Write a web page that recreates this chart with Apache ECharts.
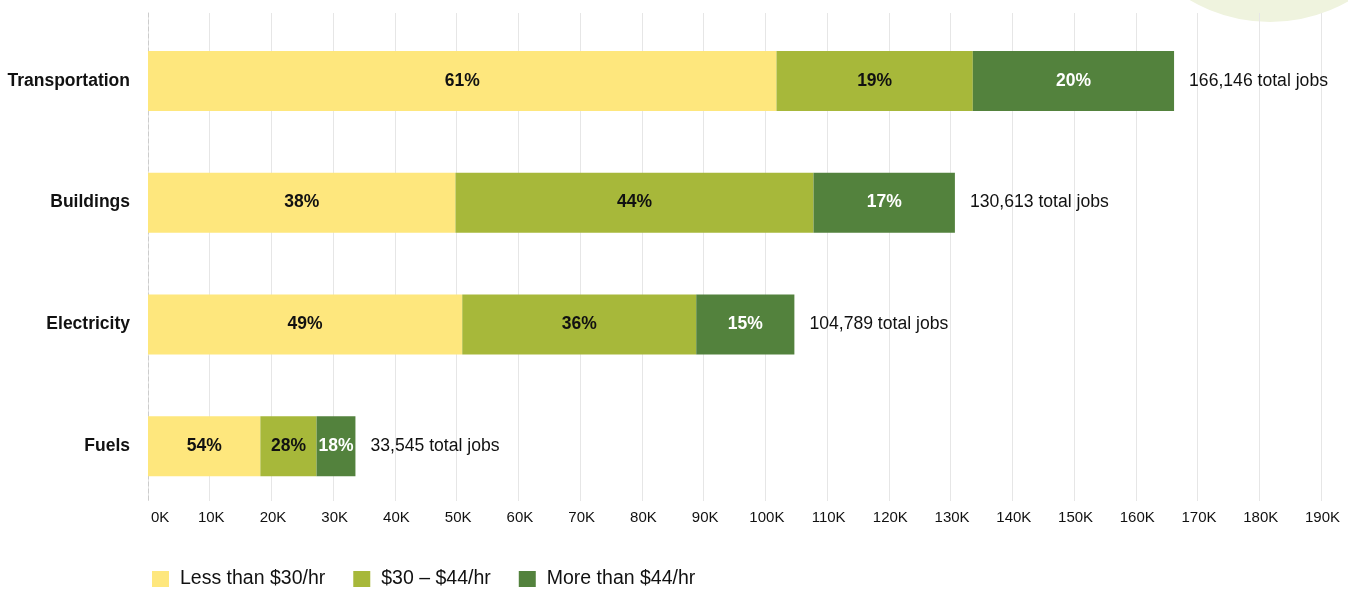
<!DOCTYPE html>
<html>
<head>
<meta charset="utf-8">
<script src="https://cdn.jsdelivr.net/npm/echarts@6/dist/echarts.min.js"></script>
<style>
html,body{margin:0;padding:0;background:#fff;}
#chart{width:1348px;height:591px;}
</style>
</head>
<body>
<div id="chart"></div>
<script>
const categories = ['Transportation', 'Buildings', 'Electricity', 'Fuels'];
const seriesNames = ['Less than $30/hr', '$30 – $44/hr', 'More than $44/hr'];
const lowWage = [101800, 49800, 50900, 18200];
const midWage = [31800, 58000, 37900, 9100];
const highWage = [32600, 22900, 15900, 6300];
const lowPct = ['61%', '38%', '49%', '54%'];
const midPct = ['19%', '44%', '36%', '28%'];
const highPct = ['20%', '17%', '15%', '18%'];
const totalLabels = ['166,146 total jobs', '130,613 total jobs', '104,789 total jobs', '33,545 total jobs'];
const totalPad = [0, 0, 0, 0];
const xMax = 190000;
const xStep = 10000;

const colors = ['#FEE77D', '#A7B83A', '#53823D'];
const FONT = '"Liberation Sans", Arial, sans-serif';

const chart = echarts.init(document.getElementById('chart'));

function pctSeries(name, data, labels, color, textColor) {
  return {
    name: name,
    type: 'bar',
    stack: 'jobs',
    xAxisIndex: 1,
    yAxisIndex: 1,
    barWidth: 60,
    data: data,
    itemStyle: { color: color },
    label: {
      show: true,
      position: 'inside',
      formatter: p => labels[p.dataIndex],
      color: textColor,
      fontFamily: FONT,
      fontWeight: 'bold',
      fontSize: 17.5
    },
    emphasis: { disabled: true }
  };
}

chart.setOption({
  animation: false,
  textStyle: { fontFamily: FONT },
  graphic: [{
    type: 'circle',
    z: -10,
    silent: true,
    shape: { cx: 1270, cy: -136, r: 158 },
    style: { fill: '#EFF3DE' }
  }],
  legend: {
    data: seriesNames,
    left: 152,
    top: 569,
    padding: 0,
    itemWidth: 17,
    itemHeight: 16,
    itemGap: 28,
    itemStyle: { borderWidth: 0 },
    icon: 'rect',
    textStyle: { fontFamily: FONT, fontSize: 19.5, color: '#111', padding: [0, 0, 0, 6] },
    selectedMode: false
  },
  grid: [
    { left: 148, right: 27, top: 13, bottom: 90 },
    { left: 148, right: 27, top: 20, bottom: 84 }
  ],
  xAxis: [
    {
      type: 'value', gridIndex: 0, min: 0, max: xMax, interval: xStep,
      axisLine: { show: false }, axisTick: { show: false },
      splitLine: { show: true, lineStyle: { color: '#E6E6E6', width: 1 } },
      axisLabel: {
        margin: 9, color: '#111', fontSize: 15, fontFamily: FONT,
        formatter: v => (v / 1000) + 'K',
        alignMinLabel: 'left', padding: [0, 0, 0, 3]
      }
    },
    {
      type: 'value', gridIndex: 1, min: 0, max: xMax, interval: xStep,
      show: false, splitLine: { show: false }
    }
  ],
  yAxis: [
    {
      type: 'category', gridIndex: 0, data: categories, inverse: true,
      axisLine: { show: true, lineStyle: { color: '#CCCCCC', type: [4, 3], width: 1 } },
      axisTick: { show: false }, axisLabel: { show: false }, splitLine: { show: false }
    },
    {
      type: 'category', gridIndex: 1, data: categories, inverse: true,
      axisLine: { show: false }, axisTick: { show: false },
      axisLabel: { margin: 18, color: '#111', fontSize: 17.5, fontWeight: 'bold', fontFamily: FONT }
    }
  ],
  series: [
    pctSeries(seriesNames[0], lowWage, lowPct, colors[0], '#111'),
    pctSeries(seriesNames[1], midWage, midPct, colors[1], '#111'),
    pctSeries(seriesNames[2], highWage, highPct, colors[2], '#fff'),
    {
      name: 'total',
      type: 'bar',
      stack: 'jobs',
      xAxisIndex: 1,
      yAxisIndex: 1,
      barWidth: 60,
      data: totalPad,
      itemStyle: { color: 'rgba(0,0,0,0)' },
      label: {
        show: true,
        position: 'right',
        distance: 15,
        formatter: p => totalLabels[p.dataIndex],
        color: '#111',
        fontFamily: FONT,
        fontSize: 17.6
      },
      emphasis: { disabled: true }
    }
  ]
});
</script>
</body>
</html>
